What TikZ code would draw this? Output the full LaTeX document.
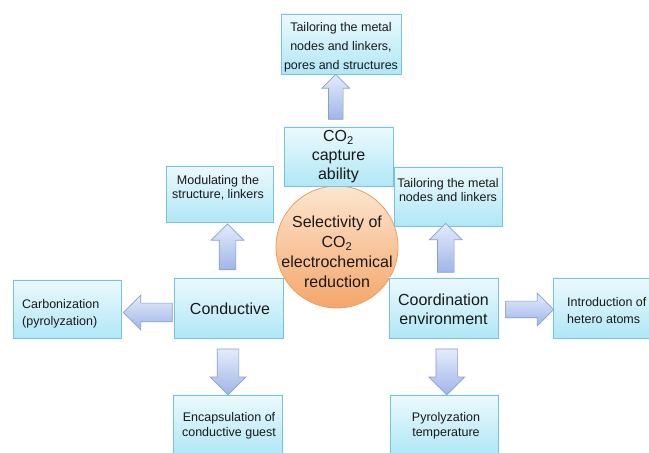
\documentclass[tikz,border=0pt]{standalone}
\usepackage{fontspec}
\setmainfont{Liberation Sans}
\usetikzlibrary{shapes.arrows,shadows,calc}

\definecolor{boxtop}{RGB}{236,249,253}
\definecolor{boxbot}{RGB}{176,231,246}
\definecolor{boxline}{RGB}{118,196,220}
\definecolor{arrtop}{RGB}{228,235,251}
\definecolor{arrbot}{RGB}{160,182,232}
\definecolor{arrline}{RGB}{138,158,210}
\definecolor{ctop}{RGB}{253,230,208}
\definecolor{cbot}{RGB}{244,166,106}
\definecolor{cline}{RGB}{236,158,96}
\definecolor{ink}{RGB}{25,25,25}

\tikzset{
  box/.style 2 args={rectangle, draw=boxline, line width=0.8pt,
    top color=boxtop, bottom color=boxbot,
    drop shadow={shadow xshift=1.2pt, shadow yshift=-1.2pt, opacity=0.25, fill=black!60},
    inner sep=0pt, minimum width=#1, minimum height=#2},
  small/.style={font=\fontsize{12.5}{#1}\selectfont, text=ink, align=center, inner sep=0pt},
  smallleft/.style={font=\fontsize{12.5}{#1}\selectfont, text=ink, align=left, inner sep=0pt, anchor=west},
  big/.style={font=\fontsize{16}{19}\selectfont, text=ink, align=center, inner sep=0pt},
  barrow/.style={single arrow, draw=arrline, line width=0.7pt,
    top color=arrtop, bottom color=arrbot,
    inner sep=8pt, single arrow head extend=8pt, minimum height=47pt},
}

\begin{document}
\begin{tikzpicture}[x=1pt,y=1pt]
\useasboundingbox (0,0) rectangle (649,453);
\clip (0,0) rectangle (649,453);
\fill[white] (0,0) rectangle (649,453);

% central circle
\node[circle, minimum size=122pt, inner sep=0pt, draw=cline, line width=0.8pt,
      top color=ctop, bottom color=cbot] (sel) at (337,206) {};
\node[font=\fontsize{16}{20}\selectfont, text=ink, align=center, inner sep=0pt] (selt)
  at (337,201) {Selectivity of\\CO\textsubscript{2}\\electrochemical\\reduction};

% boxes
\node[box={120pt}{60pt}] (top) at (341,409) {};
\node[small=19] (topt) at (341,406) {Tailoring the metal\\nodes and linkers,\\pores and structures};

\node[box={109pt}{59pt}] (co2) at (338.5,296.5) {};
\node[big] (co2t) at (338.5,296.5) {CO\textsubscript{2}\\capture\\ability};

\node[box={107pt}{56pt}] (mod) at (219.5,259) {};
\node[small=13.5] (modt) at (218,265) {Modulating the\\structure, linkers};

\node[box={108pt}{59pt}] (rt) at (448,256.5) {};
\node[small=14] (rtt) at (448,263) {Tailoring the metal\\nodes and linkers};

\node[box={109pt}{60pt}] (cond) at (228.5,145) {};
\node[big] (condt) at (230,144) {Conductive};

\node[box={108pt}{58pt}] (carb) at (67,144) {};
\node[smallleft=17] (carbt) at (22,139.5) {Carbonization\\(pyrolyzation)};

\node[box={109pt}{60pt}] (coord) at (443.5,145) {};
\node[big] (coordt) at (443.5,143.5) {Coordination\\environment};

\node[box={108pt}{60pt}] (intro) at (607,145) {};
\node[smallleft=17] (introt) at (567,142.5) {Introduction of\\hetero atoms};

\node[box={109pt}{60pt}] (enc) at (227.5,28) {};
\node[small=15] (enct) at (229,27.5) {Encapsulation of\\conductive guest};

\node[box={108pt}{60pt}] (pyro) at (444,28) {};
\node[small=15] (pyrot) at (446,27.5) {Pyrolyzation\\temperature};

% block arrows between boxes
\node[barrow, shape border rotate=90, minimum height=45pt, inner sep=7pt,
      single arrow head extend=6.5pt] (a1) at ($(co2.north)!0.5!(top.south)+(-4,0)$) {};
\node[barrow, shape border rotate=90, minimum height=46pt]
  (a2) at ($(cond.north)!0.5!(mod.south)+(3.5,-1)$) {};
\node[barrow, shape border rotate=90, minimum height=49pt]
  (a3) at ($(coord.north)!0.5!(rt.south)$) {};
\node[barrow, minimum height=48pt]
  (a4) at ($(coord.east)!0.5!(intro.west)+(0,-1.5)$) {};
\node[barrow, shape border rotate=180, minimum height=49pt, inner sep=9pt]
  (a5) at ($(cond.west)!0.5!(carb.east)+(5,-4)$) {};
\node[barrow, shape border rotate=270, minimum height=46pt, inner sep=10.5pt,
      single arrow head extend=7pt] (a6) at ($(cond.south)!0.5!(enc.north)$) {};
\node[barrow, shape border rotate=270, minimum height=46pt, inner sep=10.5pt,
      single arrow head extend=7pt] (a7) at ($(coord.south)!0.5!(pyro.north)+(3,0)$) {};
\end{tikzpicture}
\end{document}
